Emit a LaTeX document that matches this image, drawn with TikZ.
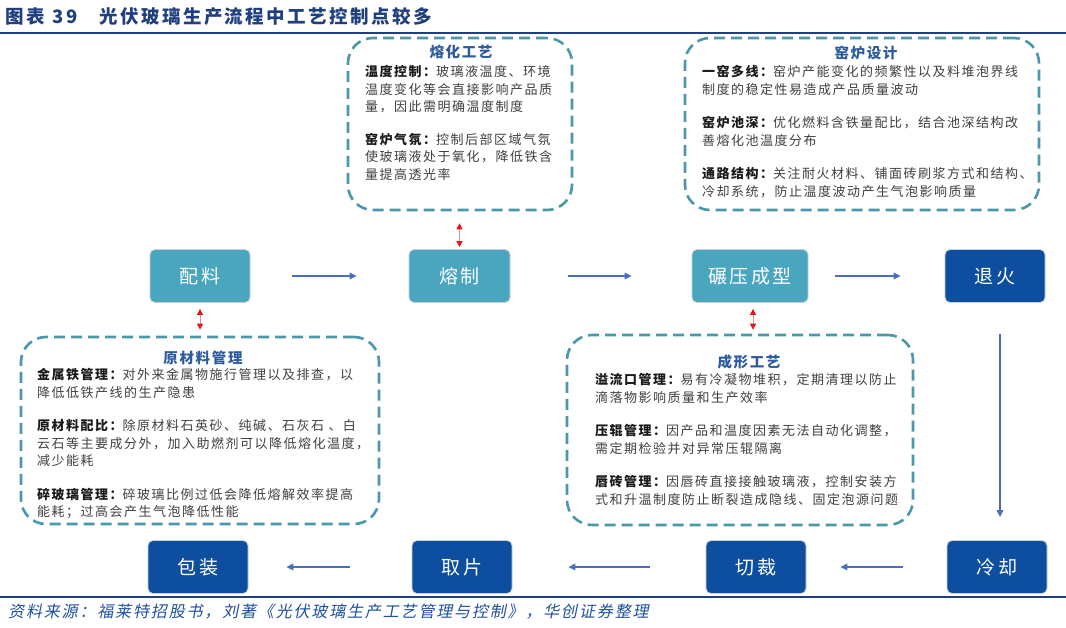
\documentclass[tikz,border=0pt]{standalone}
\usepackage{fontspec}
\setmainfont{Noto Sans CJK SC}
\newfontfamily\cjk[LetterSpace=11.5]{Noto Sans CJK SC}
\newfontfamily\cjktitle[LetterSpace=13]{Noto Sans CJK SC}
\newfontfamily\cjkslant[LetterSpace=11.5,FakeSlant=0.2]{Noto Sans CJK SC}
\usetikzlibrary{arrows.meta}
\definecolor{boxteal}{HTML}{4AA5BF}
\definecolor{boxblue}{HTML}{0D4EA0}
\definecolor{dashc}{HTML}{4A98AA}
\definecolor{arrowc}{HTML}{4A6EBC}
\definecolor{titleblue}{HTML}{1F3F7F}
\definecolor{txt}{HTML}{404040}
\definecolor{labc}{HTML}{1A1A1A}
\definecolor{boxtitle}{HTML}{2E5B9E}
\definecolor{redc}{HTML}{E8141B}
\definecolor{redshaft}{HTML}{C89A9A}
\definecolor{srcblue}{HTML}{2050A0}
\definecolor{edgegray}{HTML}{C8D0D8}
\newcommand\mylab[1]{{\bfseries\color{labc}#1}}
\tikzset{
  procbox/.style={rounded corners=5pt, draw=edgegray, line width=0.8pt, minimum height=53pt,
    text=white, font=\cjk\fontsize{19}{22}\selectfont, inner sep=0pt},
  lightbox/.style={procbox, fill=boxteal},
  darkbox/.style={procbox, fill=boxblue},
  dbox/.style={draw=dashc, line width=2.6pt, dash pattern=on 11pt off 6pt, rounded corners=25pt, inner sep=0pt},
  boxhead/.style={font=\cjk\bfseries\fontsize{14.5}{17}\selectfont, text=boxtitle, inner sep=0pt},
  body/.style={anchor=north west, align=left, inner sep=0pt, font=\cjk\fontsize{13}{17.5}\selectfont, text=txt},
  flow/.style={draw=arrowc, line width=1.5pt, -{Triangle[length=7pt,width=6.5pt]}},
  redarr/.style={draw=redshaft, line width=0.9pt, {Triangle[length=6pt,width=6pt,color=redc,fill=redc]}-{Triangle[length=6pt,width=6pt,color=redc,fill=redc]}}
}
\begin{document}
\begin{tikzpicture}[x=1pt,y=-1pt]
\useasboundingbox (0,0) rectangle (1066,627);
\fill[white] (0,0) rectangle (1066,627);
% header and footer
\node[anchor=west, inner sep=0pt, text=titleblue, font=\cjktitle\bfseries\fontsize{18.5}{20}\selectfont] (title) at (5,17) {图表\hspace{8pt}39\hspace{22pt}光伏玻璃生产流程中工艺控制点较多};
\draw[titleblue, line width=2pt] (0,33) -- (1066,33);
\draw[titleblue, line width=2pt] (0,597) -- (1066,597);
\node[anchor=west, inner sep=0pt, text=srcblue, font=\cjkslant\fontsize{16}{18}\selectfont] (source) at (8,612) {资料来源：福莱特招股书，刘著《光伏玻璃生产工艺管理与控制》，华创证券整理};

% process boxes
\node[lightbox, minimum width=100pt] (peiliao) at (200,276) {配料};
\node[lightbox, minimum width=101pt] (rongzhi) at (459.5,276) {熔制};
\node[lightbox, minimum width=116pt] (nianya) at (750,276) {碾压成型};
\node[darkbox, minimum width=100pt] (tuihuo) at (995,276) {退火};
\node[darkbox, minimum width=100pt] (lengque) at (997,567) {冷却};
\node[darkbox, minimum width=100pt] (qiecai) at (756,567) {切裁};
\node[darkbox, minimum width=100pt] (qupian) at (462,567) {取片};
\node[darkbox, minimum width=100pt] (baozhuang) at (198,567) {包装};

% flow arrows
\draw[flow, shorten <=42pt, shorten >=52pt] (peiliao) -- (rongzhi);
\draw[flow, shorten <=58pt, shorten >=60pt] (rongzhi) -- (nianya);
\draw[flow, shorten <=27pt, shorten >=44pt] (nianya) -- (tuihuo);
\draw[flow, shorten <=31pt, shorten >=23pt] (tuihuo.south -| 1000,0) -- (lengque.north -| 1000,0);
\draw[flow, shorten <=44pt, shorten >=34pt] (lengque) -- (qiecai);
\draw[flow, shorten <=56pt, shorten >=56pt] (qiecai) -- (qupian);
\draw[flow, shorten <=62pt, shorten >=38pt] (qupian) -- (baozhuang);

% dashed boxes
\node[dbox, minimum width=224pt, minimum height=172pt] (melt) at (460,124) {};
\node[dbox, minimum width=354pt, minimum height=172pt] (kiln) at (862,124) {};
\node[dbox, minimum width=358pt, minimum height=187pt] (raw) at (200,430.5) {};
\node[dbox, minimum width=346pt, minimum height=190pt] (form) at (740,430) {};

% red links
\draw[redarr, shorten <=12pt, shorten >=2pt] (rongzhi.north |- melt.south) -- (rongzhi.north);
\draw[redarr, shorten <=6pt, shorten >=6pt] (peiliao.south) -- (peiliao.south |- raw.north);
\draw[redarr, shorten <=6pt, shorten >=4pt] ([xshift=3pt]nianya.south) -- ([xshift=3pt]nianya.south |- form.north);

% melt box text
\node[boxhead] (melth) at (461,52) {熔化工艺};
\node[body] (meltt) at (365,65.5) {\mylab{温度控制：}玻璃液温度、环境\\温度变化等会直接影响产品质\\量，因此需明确温度制度\\[15pt]\mylab{窑炉气氛：}控制后部区域气氛\\使玻璃液处于氧化，降低铁含\\量提高透光率};

% kiln box text
\node[boxhead] (kilnh) at (866,53) {窑炉设计};
\node[body] (kilnt) at (702,65.5) {\mylab{一窑多线：}窑炉产能变化的频繁性以及料堆泡界线\\制度的稳定性易造成产品质量波动\\[16pt]\mylab{窑炉池深：}优化燃料含铁量配比，结合池深结构改\\善熔化池温度分布\\[16pt]\mylab{通路结构：}关注耐火材料、铺面砖刷浆方式和结构、\\冷却系统，防止温度波动产生气泡影响质量};

% raw box text
\node[boxhead] (rawh) at (203,358) {原材料管理};
\node[body] (rawt) at (37,368.5) {\mylab{金属铁管理：}对外来金属物施行管理以及排查，以\\降低低铁产线的生产隐患\\[16pt]\mylab{原材料配比：}除原材料石英砂、纯碱、石灰石 、白\\云石等主要成分外，加入助燃剂可以降低熔化温度，\\减少能耗\\[16pt]\mylab{碎玻璃管理：}碎玻璃比例过低会降低熔解效率提高\\能耗；过高会产生气泡降低性能};

% form box text
\node[boxhead] (formh) at (749,362) {成形工艺};
\node[body] (formt) at (595,373.5) {\mylab{溢流口管理：}易有冷凝物堆积，定期清理以防止\\滴落物影响质量和生产效率\\[16pt]\mylab{压辊管理：}因产品和温度因素无法自动化调整，\\需定期检验并对异常压辊隔离\\[16pt]\mylab{唇砖管理：}因唇砖直接接触玻璃液，控制安装方\\式和升温制度防止断裂造成隐线、固定泡源问题};
\end{tikzpicture}
\end{document}
